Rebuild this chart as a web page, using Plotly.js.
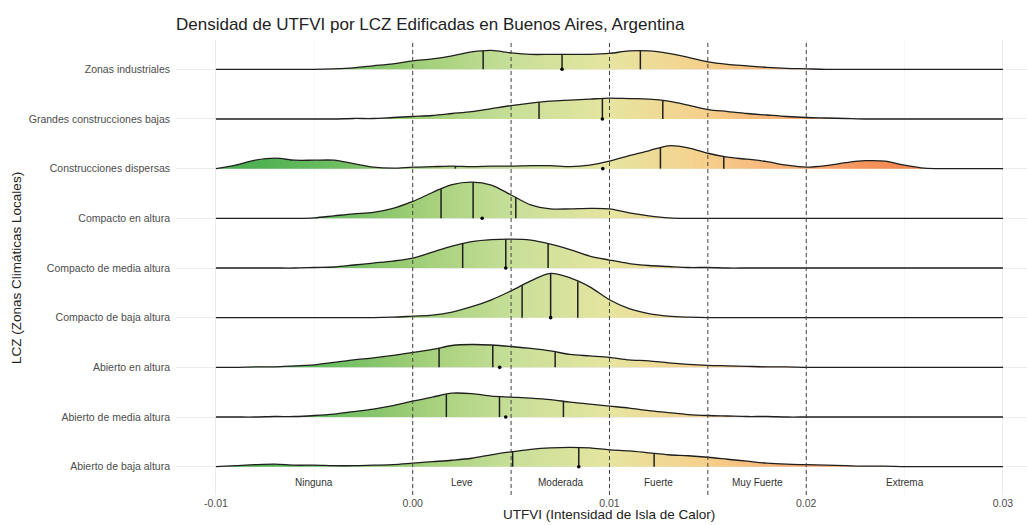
<!DOCTYPE html>
<html><head><meta charset="utf-8">
<script src="https://cdn.plot.ly/plotly-3.0.1.min.js"></script>
<style>html,body{margin:0;padding:0;background:#fff;} #chart{width:1027px;height:525px;}</style>
</head><body><div id="chart"></div>
<script>
// Categories from bottom to top
const categories = ["Abierto de baja altura","Abierto de media altura","Abierto en altura","Compacto de baja altura","Compacto de media altura","Compacto en altura","Construcciones dispersas","Grandes construcciones bajas","Zonas industriales"];

// UTFVI sample positions where the density heights were read
const utfvi = [-0.010,-0.009,-0.008,-0.007,-0.006,-0.005,-0.004,-0.003,-0.002,-0.001,
  0.000,0.001,0.002,0.003,0.004,0.005,0.006,0.007,0.008,0.009,
  0.010,0.011,0.012,0.013,0.014,0.015,0.016,0.017,0.018,0.019,
  0.020,0.021,0.022,0.023,0.024,0.025,0.026,0.027,0.028,0.029,0.030];

// Scaled density heights (percent of the row spacing)
const densAbiertoBaja   = [0,2,4,5,3,3,2,2,3,4,7,10,13,17,24,30,35,38,39,38,34,32,28,24,22,19,15,11,7,5,4,3,2,1,1,0,0,0,0,0,0];
const densAbiertoMedia  = [0,0,0,1,1,3,6,11,16,23,32,40,48,47,42,40,38,35,30,26,22,18,13,9,5,3,2,1,1,0,0,0,0,0,0,0,0,0,0,0,0];
const densAbiertoAltura = [0,0,1,1,3,5,10,15,19,24,30,36,44,46,45,42,38,33,26,23,20,15,13,9,6,4,3,2,1,1,0,0,0,0,0,0,0,0,0,0,0];
const densCompactoBaja  = [0,0,0,0,0,0,0,0,0,1,3,5,11,22,36,54,74,89,80,62,36,18,8,3,1,0,0,0,0,0,0,0,0,0,0,0,0,0,0,0,0];
const densCompactoMedia = [0,0,0,0,0,1,2,6,10,14,20,32,44,53,57,58,56,48,37,24,16,9,5,3,1,1,0,0,0,0,0,0,0,0,0,0,0,0,0,0,0];
const densCompactoAltura= [0,0,0,0,0,1,5,9,12,20,34,52,68,73,67,47,27,19,19,20,19,11,5,1,0,0,0,0,0,0,0,0,0,0,0,0,0,0,0,0,0];
const densDispersas     = [0,7,17,21,17,17,17,10,3,1,3,4,5,4,5,5,6,6,4,7,15,26,36,46,42,31,23,19,14,7,3,6,12,16,15,7,1,0,0,0,0];
const densGrandes       = [0,0,0,0,0,0,0,1,1,3,5,7,11,15,21,27,32,36,38,40,42,41,40,36,28,19,15,11,8,5,3,2,1,0,0,0,0,0,0,0,0];
const densIndustriales  = [0,0,0,0,0,0,1,3,7,11,17,21,27,35,38,33,30,30,30,30,32,37,37,32,24,15,10,7,4,2,1,0,0,0,0,0,0,0,0,0,0];
const densities = [densAbiertoBaja,densAbiertoMedia,densAbiertoAltura,densCompactoBaja,densCompactoMedia,densCompactoAltura,densDispersas,densGrandes,densIndustriales];

// Quartiles and means per category (same order as categories)
const q1    = [0.00508,0.00171,0.00134,0.00556,0.00254,0.00144,0.00217,0.00642,0.00358];
const q2    = [0.00844,0.00441,0.00407,0.00701,0.00473,0.00307,0.01259,0.00964,0.00759];
const q3    = [0.01227,0.00766,0.00724,0.00839,0.00688,0.00524,0.01581,0.01271,0.01157];
const means = [0.00844,0.00473,0.00442,0.00701,0.00473,0.00353,0.00966,0.00964,0.00759];

// UTFVI classes
const classBreaks = [-0.01,0,0.005,0.01,0.015,0.02,0.03];
const classLabels = ["Ninguna","Leve","Moderada","Fuerte","Muy Fuerte","Extrema"];
const thresholds = [0,0.005,0.01,0.015,0.02];

const xTickVals = [-0.01,0,0.01,0.02,0.03];
const xTickText = ["-0.01","0.00","0.01","0.02","0.03"];
const xMinorVals = [-0.005,0.005,0.015,0.025];

const FONT = "Liberation Sans, Arial, Helvetica, sans-serif";
const gradScale = [
  [0.000,'#46ac4c'],[0.075,'#55b455'],[0.150,'#6dbd61'],[0.250,'#9ecd76'],
  [0.375,'#c7df98'],[0.500,'#e6e5a0'],[0.625,'#f6cf8b'],[0.750,'#f7a86e'],
  [0.875,'#f28650'],[1.000,'#ee6f3f']];

function interp(arr, x){
  for(let k=0;k<utfvi.length-1;k++){
    if(x>=utfvi[k] && x<=utfvi[k+1]){
      const t=(x-utfvi[k])/(utfvi[k+1]-utfvi[k]);
      return arr[k]+(arr[k+1]-arr[k])*t;
    }
  }
  return 0;
}

const traces = [];
for(let i=categories.length-1;i>=0;i--){
  const d = densities[i];
  traces.push({x:utfvi, y:utfvi.map(()=>i), mode:'lines', line:{width:0,color:'rgba(0,0,0,0)'}, hoverinfo:'skip', showlegend:false});
  traces.push({x:utfvi, y:d.map(v=>i+v/100), mode:'lines', fill:'tonexty',
    fillgradient:{type:'horizontal', colorscale:gradScale, start:-0.01, stop:0.03},
    line:{color:'#1f1f1f', width:1.3, shape:'spline', smoothing:0.9}, hoverinfo:'skip', showlegend:false});
  const qx=[], qy=[];
  [q1[i],q2[i],q3[i]].forEach(q=>{ qx.push(q,q,null); qy.push(i, i+interp(d,q)/100, null); });
  traces.push({x:qx, y:qy, mode:'lines', line:{color:'#1f1f1f', width:1.5}, hoverinfo:'skip', showlegend:false});
}
traces.push({x:means, y:categories.map((c,i)=>i), mode:'markers', marker:{color:'#000', size:3.6}, hoverinfo:'skip', showlegend:false});

const shapes = thresholds.map(t=>({type:'line', xref:'x', yref:'paper', x0:t, x1:t, y0:0, y1:1,
  line:{color:'#444', width:1, dash:'4px,3px'}}));

const annotations = classLabels.map((lab,k)=>({x:(classBreaks[k]+classBreaks[k+1])/2, y:-0.31, xref:'x', yref:'y',
  text:lab, showarrow:false, font:{family:FONT, size:10, color:'#333'}}));
annotations.push({xref:'paper', yref:'paper', x:-0.1875, y:0.5, text:'LCZ (Zonas Climáticas Locales)', textangle:-90,
  showarrow:false, font:{family:FONT, size:13.5, color:'#222'}, xanchor:'center', yanchor:'middle'});
annotations.push({xref:'x', yref:'paper', x:0.01, y:-0.0425, text:'UTFVI (Intensidad de Isla de Calor)',
  showarrow:false, font:{family:FONT, size:13.5, color:'#222'}, xanchor:'center', yanchor:'middle'});

const layout = {
  width:1027, height:525,
  margin:{l:176, r:0, t:40, b:30},
  paper_bgcolor:'#fff', plot_bgcolor:'#fff',
  title:{text:'Densidad de UTFVI por LCZ Edificadas en Buenos Aires, Argentina', xref:'paper', x:0, xanchor:'left',
    yref:'container', y:1-24.5/525, yanchor:'middle', font:{family:FONT, size:17, color:'#222'}},
  xaxis:{range:[-0.01203,0.03122], tickvals:xTickVals, ticktext:xTickText, showgrid:true, gridcolor:'#ebebeb', gridwidth:1,
    minor:{tickvals:xMinorVals, showgrid:true, gridcolor:'#f3f3f3', gridwidth:0.7}, zeroline:false, showline:false, ticks:'',
    tickfont:{family:FONT, size:10.5, color:'#4d4d4d'}},
  yaxis:{range:[-0.57,8.59], tickvals:categories.map((c,i)=>i), ticktext:categories, showgrid:true, gridcolor:'#ebebeb', gridwidth:1,
    zeroline:false, showline:false, ticks:'', ticklabelstandoff:5, tickfont:{family:FONT, size:10.5, color:'#4d4d4d'}},
  shapes:shapes, annotations:annotations, showlegend:false
};
Plotly.newPlot('chart', traces, layout, {staticPlot:true, displayModeBar:false});
</script>
</body></html>
